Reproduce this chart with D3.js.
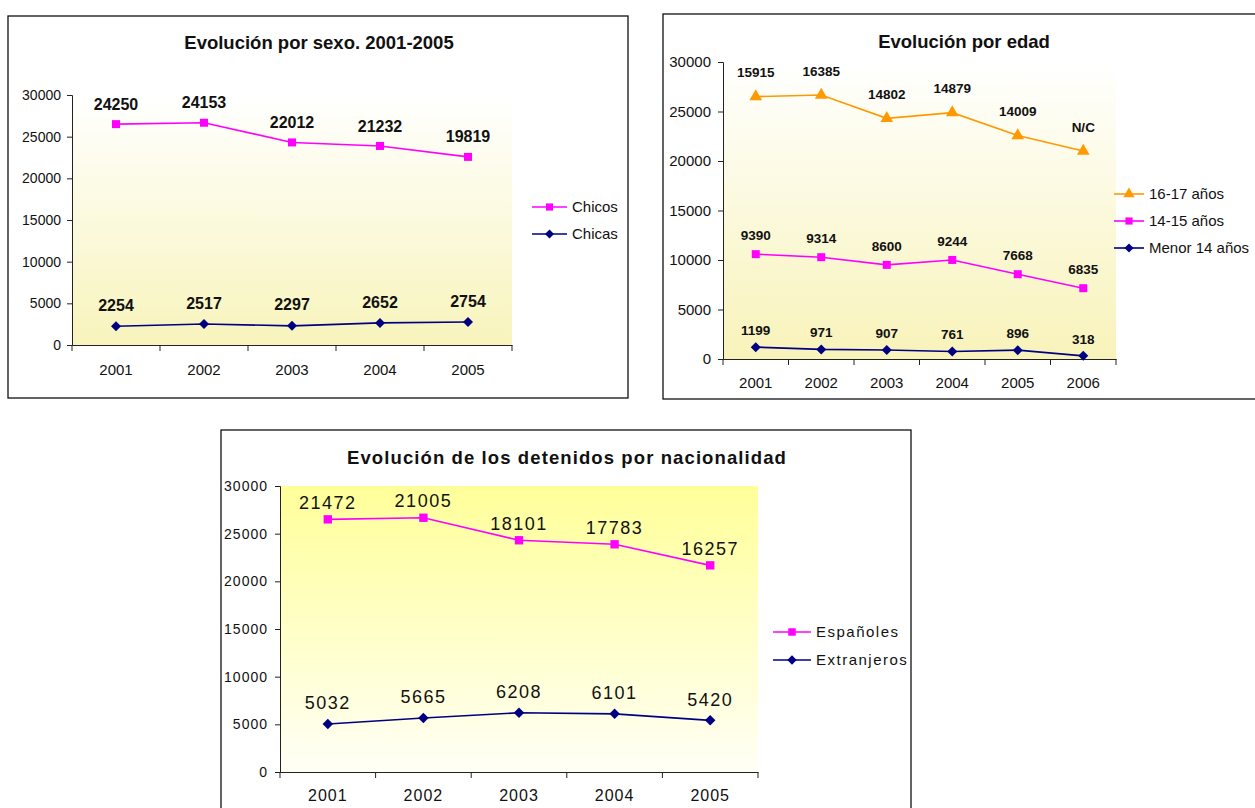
<!DOCTYPE html>
<html><head><meta charset="utf-8">
<script src="https://cdn.jsdelivr.net/npm/d3@7"></script>
<style>body{margin:0;background:#fff}svg{display:block;font-family:"Liberation Sans",Arial,sans-serif}</style>
</head><body>
<svg id="c" width="1255" height="808"></svg>
<script>
// ---- data ----
const yTicks = [0, 5000, 10000, 15000, 20000, 25000, 30000];

const years1 = ["2001", "2002", "2003", "2004", "2005"];
const chicos = [24250, 24153, 22012, 21232, 19819];
const chicas = [2254, 2517, 2297, 2652, 2754];

const years2 = ["2001", "2002", "2003", "2004", "2005", "2006"];
const menor14 = [1199, 971, 907, 761, 896, 318];
const edad1415 = [9390, 9314, 8600, 9244, 7668, 6835];
const edad1617 = [15915, 16385, 14802, 14879, 14009, 13850]; // 2006 value estimated from plotted position
const edad1617Labels = ["15915", "16385", "14802", "14879", "14009", "N/C"];

const years3 = ["2001", "2002", "2003", "2004", "2005"];
const espanoles = [21472, 21005, 18101, 17783, 16257];
const extranjeros = [5032, 5665, 6208, 6101, 5420];

const svg = d3.select("#c");
const defs = svg.append("defs");

function marker(sel, shape, size, color) {
  if (shape === "diamond") {
    sel.append("path").attr("d", d3.symbol().type(d3.symbolSquare).size(size)).attr("transform", "rotate(45)").attr("fill", color);
    return;
  }
  const sym = {square: d3.symbolSquare, triangle: d3.symbolTriangle}[shape];
  sel.append("path").attr("d", d3.symbol().type(sym).size(size)).attr("fill", color);
}

function panel(o) {
  const g = svg.append("g");
  g.append("rect").attr("x", o.frame[0]).attr("y", o.frame[1]).attr("width", o.frame[2]).attr("height", o.frame[3])
    .attr("fill", "#fff").attr("stroke", "#111").attr("stroke-width", 1.3);

  const x = d3.scaleBand().domain(o.cats).range([o.x0, o.x1]);
  const y = d3.scaleLinear().domain([0, 30000]).range([o.y0, o.y1]);

  const gid = "grad" + o.id;
  const lg = defs.append("linearGradient").attr("id", gid).attr("x1", 0).attr("y1", 0).attr("x2", 0).attr("y2", 1);
  lg.append("stop").attr("offset", "0%").attr("stop-color", o.gradTop);
  lg.append("stop").attr("offset", "100%").attr("stop-color", o.gradBottom);
  g.append("rect").attr("x", o.x0).attr("y", y(30000)).attr("width", o.x1 - o.x0).attr("height", y(0) - y(30000))
    .attr("fill", `url(#${gid})`);

  // title
  g.append("text").attr("x", o.titleX).attr("y", o.titleY).attr("text-anchor", "middle").attr("dy", "0.35em")
    .attr("font-weight", "bold").attr("font-size", o.titleSize).attr("letter-spacing", o.titleSpacing || 0)
    .attr("fill", "#111").text(o.title);

  // y axis
  const ya = g.append("g").attr("transform", `translate(${o.x0},0)`)
    .call(d3.axisLeft(y).tickValues(yTicks).tickSize(5).tickPadding(o.yPad).tickFormat(d3.format("d")));
  ya.selectAll("text").attr("font-size", o.tickSize).attr("font-family", "Liberation Sans, Arial, sans-serif")
    .attr("fill", "#111").attr("letter-spacing", o.tickSpacing || 0);
  ya.selectAll("line,path").attr("stroke", "#222");

  // x axis
  const xa = g.append("g").attr("transform", `translate(0,${o.y0})`)
    .call(d3.axisBottom(x).tickSize(0).tickPadding(o.xPad));
  xa.selectAll("text").attr("font-size", o.xTickSize).attr("font-family", "Liberation Sans, Arial, sans-serif")
    .attr("fill", "#111").attr("letter-spacing", o.xSpacing || 0);
  xa.selectAll("path").attr("stroke", "#222");
  const bounds = d3.range(o.cats.length + 1).map(i => o.x0 + i * x.step());
  xa.selectAll(".bt").data(bounds).join("line").attr("class", "bt")
    .attr("x1", d => d).attr("x2", d => d).attr("y1", 0).attr("y2", 6).attr("stroke", "#222");

  // stacked series
  const rows = o.cats.map((c, i) => {
    const r = {cat: c};
    o.series.forEach(s => r[s.key] = s.values[i]);
    return r;
  });
  const stacked = d3.stack().keys(o.series.map(s => s.key))(rows);
  const cx = c => x(c) + x.bandwidth() / 2;
  stacked.forEach((layer, li) => {
    const s = o.series[li];
    g.append("path").datum(layer)
      .attr("d", d3.line().x(d => cx(d.data.cat)).y(d => y(d[1])))
      .attr("fill", "none").attr("stroke", s.color).attr("stroke-width", 1.6);
    layer.forEach((d, i) => {
      const m = g.append("g").attr("transform", `translate(${cx(d.data.cat)},${y(d[1])})`);
      marker(m, s.shape, s.size, s.color);
      g.append("text").attr("x", cx(d.data.cat)).attr("y", y(d[1]) - s.labelOff).attr("dy", "0.35em")
        .attr("text-anchor", "middle").attr("font-size", o.labelSize).attr("font-weight", o.labelWeight)
        .attr("letter-spacing", o.labelSpacing || 0).attr("fill", "#111")
        .text(s.labels ? s.labels[i] : s.values[i]);
    });
  });

  // legend (top series first)
  const legSeries = o.series.slice().reverse();
  legSeries.forEach((s, i) => {
    const ly = o.legY + i * o.legGap;
    g.append("line").attr("x1", o.legX).attr("x2", o.legX + o.legLen).attr("y1", ly).attr("y2", ly)
      .attr("stroke", s.color).attr("stroke-width", 1.6);
    const m = g.append("g").attr("transform", `translate(${o.legX + o.legLen / 2},${ly})`);
    marker(m, s.shape, s.size * 0.8, s.color);
    g.append("text").attr("x", o.legX + o.legLen + 5).attr("y", ly).attr("dy", "0.35em")
      .attr("font-size", o.legSize).attr("letter-spacing", o.legSpacing || 0).attr("fill", "#111").text(s.name);
  });
}

const PINK = "#FF00FF", NAVY = "#000080", ORANGE = "#FF9900";

panel({
  id: 1, frame: [8, 16, 620, 382], cats: years1,
  x0: 72, x1: 512, y0: 345, y1: 95,
  gradTop: "#FFFFFF", gradBottom: "#F8F4BC",
  title: "Evolución por sexo. 2001-2005", titleX: 319, titleY: 43, titleSize: 18.5,
  tickSize: 14, yPad: 6, xTickSize: 15, xPad: 19,
  labelSize: 16, labelWeight: "bold",
  series: [
    {key: "chicas", name: "Chicas", values: chicas, color: NAVY, shape: "diamond", size: 50, labelOff: 21},
    {key: "chicos", name: "Chicos", values: chicos, color: PINK, shape: "square", size: 64, labelOff: 20}
  ],
  legX: 532, legLen: 35, legY: 207, legGap: 27, legSize: 15
});

panel({
  id: 2, frame: [663, 14, 620, 385], cats: years2,
  x0: 723, x1: 1116, y0: 359, y1: 62,
  gradTop: "#FFFFFF", gradBottom: "#F8F3BA",
  title: "Evolución por edad", titleX: 964, titleY: 42, titleSize: 18.5,
  tickSize: 15, yPad: 7, xTickSize: 15, xPad: 18,
  labelSize: 13.5, labelWeight: "bold",
  series: [
    {key: "m14", name: "Menor 14 años", values: menor14, color: NAVY, shape: "diamond", size: 50, labelOff: 17},
    {key: "e1415", name: "14-15 años", values: edad1415, color: PINK, shape: "square", size: 64, labelOff: 19},
    {key: "e1617", name: "16-17 años", values: edad1617, labels: edad1617Labels, color: ORANGE, shape: "triangle", size: 70, labelOff: 24}
  ],
  legX: 1114, legLen: 30, legY: 194, legGap: 27, legSize: 15
});

panel({
  id: 3, frame: [221, 430, 690, 400], cats: years3,
  x0: 280, x1: 758, y0: 772, y1: 486,
  gradTop: "#FFFF99", gradBottom: "#FFFFF6",
  title: "Evolución de los detenidos por nacionalidad", titleX: 567, titleY: 458, titleSize: 18.5, titleSpacing: 1.1,
  tickSize: 14, tickSpacing: 1, yPad: 7, xTickSize: 16, xSpacing: 1, xPad: 18,
  labelSize: 18, labelWeight: "normal", labelSpacing: 1.5,
  series: [
    {key: "ext", name: "Extranjeros", values: extranjeros, color: NAVY, shape: "diamond", size: 55, labelOff: 21},
    {key: "esp", name: "Españoles", values: espanoles, color: PINK, shape: "square", size: 70, labelOff: 17}
  ],
  legX: 773, legLen: 38, legY: 632, legGap: 28, legSize: 15, legSpacing: 1.5
});
</script>
</body></html>
